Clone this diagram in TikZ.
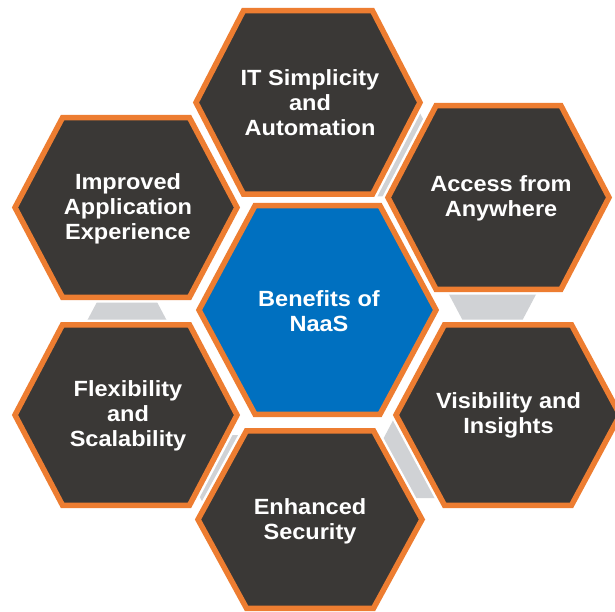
\documentclass[tikz,border=0pt]{standalone}
\usepackage{fontspec}
\setmainfont[FakeStretch=1.07]{Liberation Sans}
\definecolor{hexdark}{HTML}{3A3836}
\definecolor{hexorange}{HTML}{ED7D31}
\definecolor{hexblue}{HTML}{0070C0}
\definecolor{linkgray}{HTML}{D0D2D5}
% #1 style, #2 cx, #3 cy, #4 half-width, #5 half-height, #6 half top edge
\newcommand{\hexpath}[6]{\path[#1] ({#2-#4},{#3}) -- ({#2-#6},{#3-#5}) -- ({#2+#6},{#3-#5}) -- ({#2+#4},{#3}) -- ({#2+#6},{#3+#5}) -- ({#2-#6},{#3+#5}) -- cycle;}
\tikzset{
  halo/.style={draw=white, line width=10.5pt, line join=miter},
  outerhex/.style={fill=hexdark, draw=hexorange, line width=5.5pt, line join=miter},
  corehex/.style={fill=hexblue, draw=hexorange, line width=5.5pt, line join=miter},
  linkhex/.style={fill=linkgray},
  hextext/.style={text=white, font=\bfseries\fontsize{22}{25}\selectfont, align=center, inner sep=0pt}
}
\begin{document}
\begin{tikzpicture}[x=1pt,y=-1pt]
\fill[white] (0,0) rectangle (615,612);
\useasboundingbox (0,0) rectangle (615,612);
% grey link hexagons between neighbouring outer hexagons
\hexpath{linkhex}{388}{153}{53}{43.5}{30}
\hexpath{linkhex}{492.5}{276.5}{53}{43.5}{30}
\hexpath{linkhex}{428}{454.5}{53}{43.5}{30}
\hexpath{linkhex}{243}{478.5}{53}{43.5}{30}
\hexpath{linkhex}{127}{345.5}{53}{43.5}{30}
% white halos
\hexpath{halo}{308}{102.5}{112}{91.75}{64.5}
\hexpath{halo}{498.5}{197.5}{110.5}{91.75}{62.5}
\hexpath{halo}{508}{415}{112}{90.25}{63.5}
\hexpath{halo}{310}{519.5}{112}{88.75}{63.5}
\hexpath{halo}{126}{415}{111}{90.25}{63.5}
\hexpath{halo}{126}{207.5}{111}{89.75}{63.5}
\hexpath{halo}{317.5}{310}{118.5}{104.25}{62.5}
% hexagons
\hexpath{outerhex}{308}{102.5}{112}{91.75}{64.5}
\hexpath{outerhex}{498.5}{197.5}{110.5}{91.75}{62.5}
\hexpath{outerhex}{508}{415}{112}{90.25}{63.5}
\hexpath{outerhex}{310}{519.5}{112}{88.75}{63.5}
\hexpath{outerhex}{126}{415}{111}{90.25}{63.5}
\hexpath{outerhex}{126}{207.5}{111}{89.75}{63.5}
\hexpath{corehex}{317.5}{310}{118.5}{104.25}{62.5}
% texts
\node[hextext] (it) at (310,102.5) {IT Simplicity\\and\\Automation};
\node[hextext] (access) at (501,198.5) {Access from\\Anywhere};
\node[hextext] (vis) at (508.5,415.5) {Visibility and\\Insights};
\node[hextext] (enh) at (310,521.5) {Enhanced\\Security};
\node[hextext] (flex) at (128,415.5) {Flexibility\\and\\Scalability};
\node[hextext] (imp) at (128,208.5) {Improved\\Application\\Experience};
\node[hextext] (core) at (319,311.5) {Benefits of\\NaaS};
\end{tikzpicture}
\end{document}
